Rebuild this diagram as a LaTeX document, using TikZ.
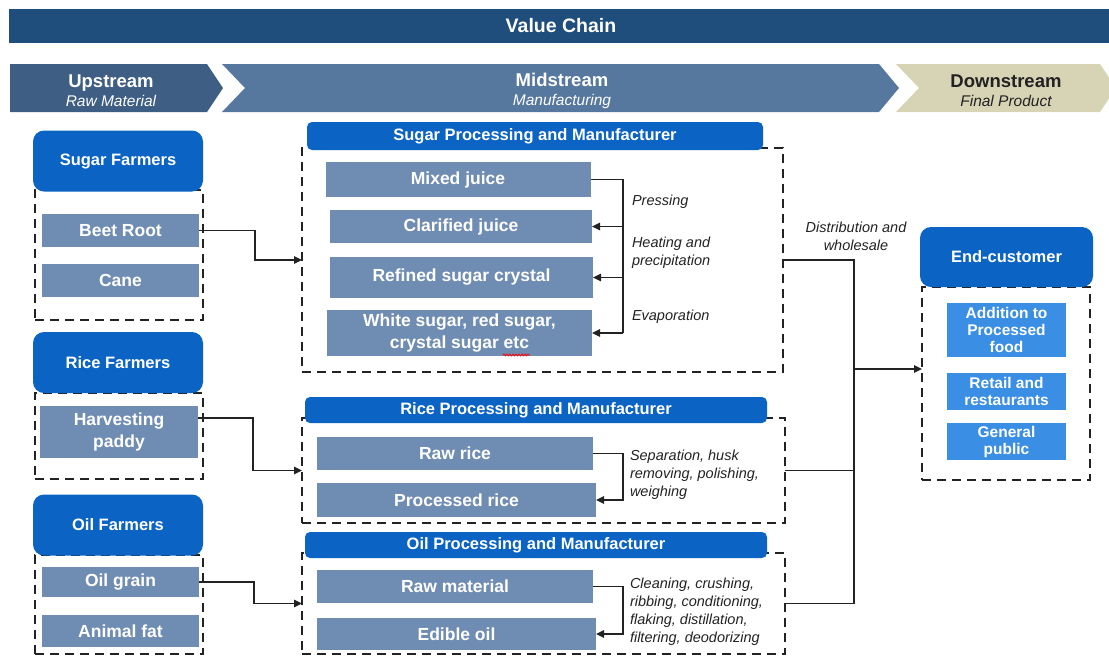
\documentclass[tikz,border=0pt]{standalone}
\usepackage{fontspec}
\setmainfont{Liberation Sans}
\usetikzlibrary{arrows.meta,calc,decorations.pathmorphing}
\definecolor{chainblue}{HTML}{1F4D7C}
\definecolor{upblue}{HTML}{3F5E84}
\definecolor{midblue}{HTML}{56789F}
\definecolor{downbeige}{HTML}{D7D4B6}
\definecolor{headblue}{HTML}{0B63C4}
\definecolor{itemblue}{HTML}{6F8CB3}
\definecolor{custblue}{HTML}{3A8EE3}
\definecolor{inkgray}{HTML}{222222}

\begin{document}
\begin{tikzpicture}
  [x=1pt,y=-1pt,every node/.style={inner sep=0pt,outer sep=0pt}]
  \tikzstyle{farmer} = [fill=headblue,rounded corners=11pt,text=white,font=\fontsize{16.5}{19}\selectfont\bfseries,minimum width=170pt,minimum height=61pt]
  \tikzstyle{plant} = [fill=headblue,rounded corners=5pt,text=white,font=\fontsize{16.5}{19}\selectfont\bfseries,minimum width=460pt,minimum height=27pt]
  \tikzstyle{item} = [fill=itemblue,text=white,font=\fontsize{17.5}{22}\selectfont\bfseries,align=center,minimum height=33pt]
  \tikzstyle{cust} = [fill=custblue,text=white,font=\fontsize{15.5}{17}\selectfont\bfseries,align=center,minimum width=119pt,minimum height=37pt]
  \tikzstyle{group} = [draw=inkgray,line width=2.6pt,dash pattern=on 9pt off 6pt]
  \tikzstyle{proc} = [anchor=west,align=left,text=inkgray,font=\fontsize{14.5}{18}\selectfont\itshape]
  \tikzstyle{stage} = [align=center,text=white,font=\fontsize{18.5}{19}\selectfont]
  \tikzstyle{line} = [draw=inkgray,line width=1.4pt]
  \tikzstyle{link} = [line,-{Triangle[length=8pt,width=7.5pt]}]

  \useasboundingbox (0,0) rectangle (1109,657);

  % value chain banner and stages
  \node[fill=chainblue,minimum width=1104pt,minimum height=34pt,text=white,font=\fontsize{19.5}{22}\selectfont\bfseries] (chain) at (561,26) {Value Chain};
  \fill[upblue] (10,64) -- (207,64) -- (223,88) -- (207,112) -- (10,112) -- cycle;
  \fill[midblue] (222,64) -- (879,64) -- (899,88) -- (879,112) -- (222,112) -- (245,88) -- cycle;
  \fill[downbeige] (896,64) -- (1100,64) -- (1116,88) -- (1100,112) -- (896,112) -- (919,88) -- cycle;
  \node[stage] (up) at (111,91) {\bfseries Upstream\\{\fontsize{15.5}{19}\selectfont\itshape Raw Material}};
  \node[stage] (mid) at (562,91) {\bfseries Midstream\\{\fontsize{15.5}{19}\selectfont\itshape Manufacturing}};
  \node[stage,text=inkgray] (down) at (1006,91) {\bfseries Downstream\\{\fontsize{15.5}{19}\selectfont\itshape Final Product}};

  % farmers
  \node[group,minimum width=168pt,minimum height=130pt] (sugarfarm) at (119,255) {};
  \node[farmer] (sugarhead) at (118,161) {Sugar Farmers};
  \node[item,minimum width=157pt] (beet) at (120.5,230.5) {Beet Root};
  \node[item,minimum width=157pt] (cane) at (120.5,280.5) {Cane};

  \node[group,minimum width=168pt,minimum height=86pt] (ricefarm) at (119,436) {};
  \node[farmer] (ricehead) at (118,362.5) {Rice Farmers};
  \node[item,minimum width=158pt,minimum height=52pt] (paddy) at (119,432) {Harvesting\\paddy};

  \node[group,minimum width=168pt,minimum height=99pt] (oilfarm) at (119,604.5) {};
  \node[farmer] (oilhead) at (118,525) {Oil Farmers};
  \node[item,minimum width=157pt,minimum height=30pt] (grain) at (120.5,582) {Oil grain};
  \node[item,minimum width=157pt,minimum height=32pt] (fat) at (120.5,631) {Animal fat};

  % sugar processing
  \node[group,minimum width=481pt,minimum height=224pt] (sugarbox) at (542.5,260) {};
  \node[plant,minimum width=456pt,minimum height=28pt] (sugarplant) at (535,136) {Sugar Processing and Manufacturer};
  \node[item,minimum width=265pt,minimum height=35pt] (mixed) at (458,179.5) {Mixed juice};
  \node[item,minimum width=262pt] (clarified) at (461,226.5) {Clarified juice};
  \node[item,minimum width=263pt,minimum height=41pt] (refined) at (461.5,277.5) {Refined sugar crystal};
  \node[item,minimum width=265pt,minimum height=46pt] (white) at (459.5,333) {White sugar, red sugar,\\crystal sugar etc};
  \draw[red,line width=0.8pt,decorate,decoration={snake,amplitude=0.9pt,segment length=3pt}] (503,355) -- (530,355);

  \node[proc] (pressing) at (632,202) {Pressing};
  \node[proc] (heating) at (632,253) {Heating and\\precipitation};
  \node[proc] (evap) at (632,317) {Evaporation};

  % rice processing
  \node[group,minimum width=483pt,minimum height=105pt] (ricebox) at (543.5,470.5) {};
  \node[plant,minimum width=462pt,minimum height=26pt] (riceplant) at (536,410) {Rice Processing and Manufacturer};
  \node[item,minimum width=276pt] (rawrice) at (455,453.5) {Raw rice};
  \node[item,minimum width=279pt,minimum height=34pt] (procrice) at (456.5,500) {Processed rice};
  \node[proc] (husk) at (630,475) {Separation, husk\\removing, polishing,\\weighing};

  % oil processing
  \node[group,minimum width=483pt,minimum height=101pt] (oilbox) at (543.5,603.5) {};
  \node[plant,minimum width=462pt,minimum height=26pt] (oilplant) at (536,545) {Oil Processing and Manufacturer};
  \node[item,minimum width=276pt] (rawmat) at (455,586.5) {Raw material};
  \node[item,minimum width=279pt,minimum height=32pt] (edible) at (456.5,634) {Edible oil};
  \node[proc] (refining) at (630,612) {Cleaning, crushing,\\ribbing, conditioning,\\flaking, distillation,\\filtering, deodorizing};

  % end customer
  \node[group,minimum width=168pt,minimum height=193pt] (endbox) at (1006,383.5) {};
  \node[farmer,minimum width=173pt,minimum height=60pt] (endhead) at (1006.5,257) {End-customer};
  \node[cust,minimum height=54pt] (addition) at (1006.5,330) {Addition to\\Processed\\food};
  \node[cust] (retail) at (1006.5,391.5) {Retail and\\restaurants};
  \node[cust] (public) at (1006.5,441.5) {General\\public};
  \node[proc,anchor=center,align=center] (distrib) at (856,236) {Distribution and\\wholesale};

  % farmers to plants
  \draw[link] (beet.east) -- ++(56,0) |- (sugarbox.west);
  \draw[link] ($(paddy.east)+(0,-14)$) -- ++(55,0) |- (ricebox.west);
  \draw[link] (grain.east) -- ++(55,0) |- (oilbox.west);

  % process steps
  \coordinate (sbar) at (623,0);
  \draw[line] (mixed.east) -- (sbar |- mixed.east) -- (sbar |- white.east);
  \foreach \n in {clarified,refined,white}
    \draw[link] (sbar |- \n.east) -- (\n.east);
  \draw[link] (rawrice.east) -| (sbar |- procrice.east) -- (procrice.east);
  \draw[link] (rawmat.east) -| (sbar |- edible.east) -- (edible.east);

  % distribution
  \coordinate (dbar) at (854,0);
  \coordinate (dout) at (854,369);
  \draw[line] (sugarbox.east) -- (dbar |- sugarbox.east) -- (dbar |- oilbox.east) -- (oilbox.east);
  \draw[line] (ricebox.east) -- (dbar |- ricebox.east);
  \draw[link] (dout) -- (dout -| endbox.west);

\end{tikzpicture}
\end{document}
